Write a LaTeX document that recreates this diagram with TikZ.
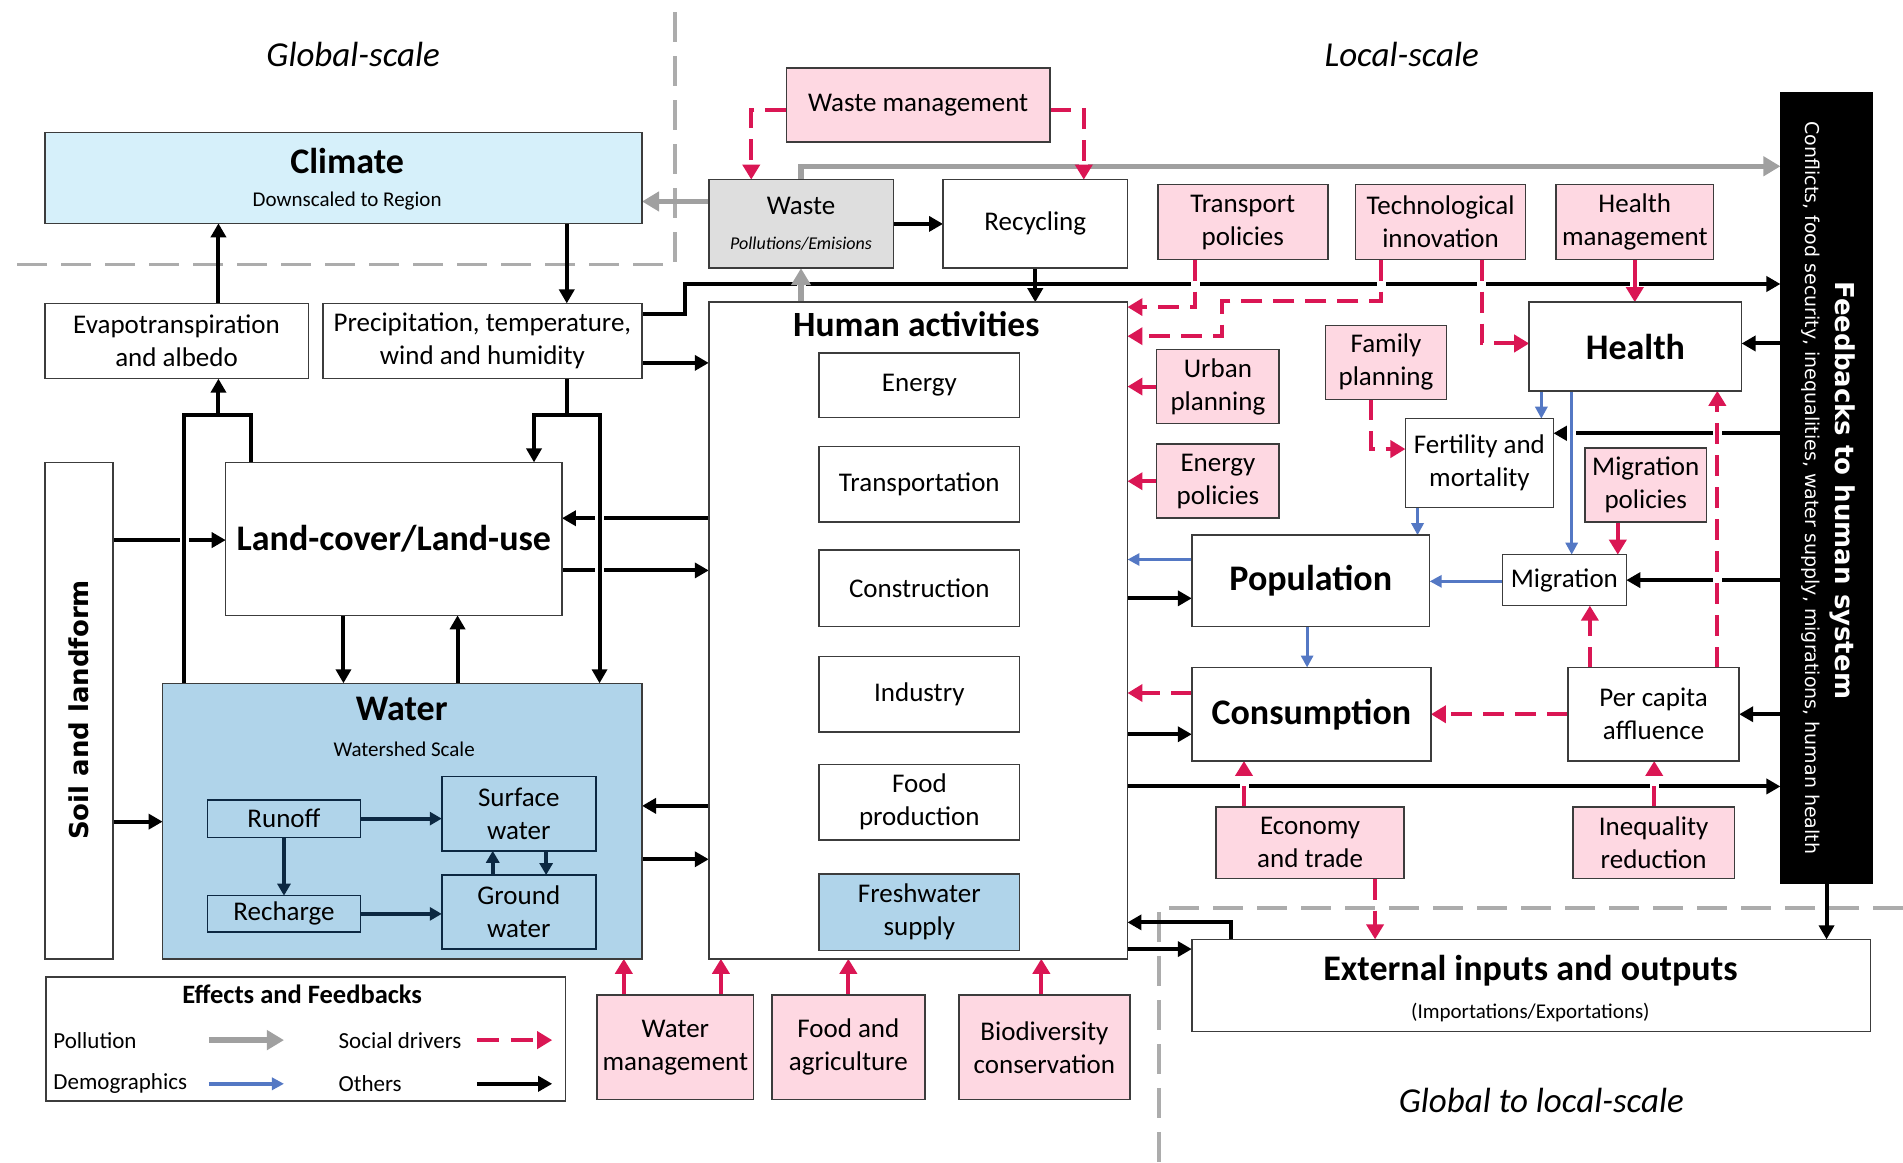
\documentclass[tikz,border=0pt]{standalone}
\usepackage{fontspec}
\setmainfont{Carlito}
\newfontfamily\dvs{DejaVu Sans}
\usetikzlibrary{arrows.meta}
\pgfdeclarelayer{bg}
\pgfsetlayers{bg,main}
\definecolor{pinkfill}{RGB}{254,216,226}
\definecolor{pinkline}{RGB}{218,22,84}
\definecolor{bluefill}{RGB}{176,212,234}
\definecolor{climfill}{RGB}{214,240,250}
\definecolor{wastefill}{RGB}{222,222,222}
\definecolor{bordc}{RGB}{60,60,60}
\definecolor{demog}{RGB}{84,120,196}
\definecolor{pollc}{RGB}{160,160,160}
\definecolor{navyc}{RGB}{12,40,66}
\definecolor{dashgray}{RGB}{172,172,172}
\newcommand\myN{\fontsize{27}{33}\selectfont}
\newcommand\myB{\fontsize{36}{42}\selectfont\bfseries}
\newcommand\myH{\fontsize{35.5}{40}\selectfont\bfseries}
\newcommand\myS{\fontsize{21}{25}\selectfont}
\newcommand\myL{\fontsize{23}{28}\selectfont}
\newcommand\myI{\fontsize{35}{40}\selectfont\itshape}
\newcommand\bx[7]{\node[#6, minimum width={(#4-#2)*1.2136pt}, minimum height={(#5-#3)*1.2136pt}] (#1) at ({(#2+#4)/2},{(#3+#5)/2}) {#7};}
\begin{document}
\begin{tikzpicture}[x=1.2136pt, y=-1.2136pt,
 box/.style={draw=bordc, line width=1.5pt, fill=white, align=center, inner sep=0pt, outer sep=0pt, font=\myN},
 pbox/.style={box, fill=pinkfill},
 wbox/.style={box, draw=navyc, fill=bluefill},
 blkl/.style={draw=black, line width=4pt},
 blk/.style={blkl, -{Triangle[length=14pt,width=15pt]}},
 gry/.style={draw=pollc, line width=5.5pt, -{Triangle[length=17pt,width=19pt]}},
 blu/.style={draw=demog, line width=3pt, -{Triangle[length=12pt,width=12pt]}},
 pnk/.style={draw=pinkline, line width=4pt, -{Triangle[length=15pt,width=17pt]}},
 pnkd/.style={pnk, dash pattern=on 21pt off 11pt},
 nav/.style={draw=navyc, line width=4pt, -{Triangle[length=12pt,width=13pt]}},
 halo/.style={preaction={draw=white, line width=9pt, solid, arrows=-}},
 region/.style={draw=dashgray, line width=3.5pt, dash pattern=on 30pt off 14pt},
 lbl/.style={inner sep=0pt, outer sep=0pt}]
\useasboundingbox (0,0) rectangle (1568,958);

% scale labels
\node[lbl, font=\myI] (gs) at (291,45) {Global-scale};
\node[lbl, font=\myI] (ls) at (1155,45) {Local-scale};
\node[lbl, font=\myI] (gls) at (1270,907) {Global to local-scale};

% climate block
\bx{climate}{37}{109}{529}{184}{box, fill=climfill}{}
\node[lbl, font=\myB] (climt) at (286,133) {Climate};
\node[lbl, font=\myS] (clims) at (286,166) {Downscaled to Region};
\bx{evap}{37}{250}{254}{312}{box}{Evapotranspiration\\and albedo}
\bx{precip}{266}{250}{529}{312}{box}{Precipitation, temperature,\\wind and humidity}

% waste
\bx{wastem}{648}{56}{865}{117}{pbox}{Waste management}
\bx{waste}{584}{148}{736}{221}{box, fill=wastefill}{}
\node[lbl, font=\myN] (wastet) at (660,170) {Waste};
\node[lbl, font=\fontsize{18}{22}\selectfont\itshape] (wastes) at (660,201) {Pollutions/Emisions};
\bx{recyc}{777}{148}{929}{221}{box}{Recycling}

% policies top
\bx{transp}{954}{152}{1094}{214}{pbox}{Transport\\policies}
\bx{techin}{1117}{152}{1257}{214}{pbox}{Technological\\innovation}
\bx{healthm}{1282}{152}{1412}{214}{pbox}{Health\\management}

% feedbacks bar
\bx{feedb}{1467}{76}{1543}{728}{fill=black, inner sep=0pt, outer sep=0pt}{}
\node[lbl, rotate=-90, text=white, font=\dvs\fontsize{26}{30}\selectfont\bfseries] (fbt) at (1518,404) {Feedbacks to human system};
\node[lbl, rotate=-90, text=white, font=\dvs\fontsize{19}{22}\selectfont] (fbs) at (1492,402) {Conflicts, food security, inequalities, water supply, migrations, human health};

% human activities
\bx{human}{584}{249}{929}{790}{box}{}
\node[lbl, font=\myH] (humant) at (755,267) {Human activities};
\bx{energy}{675}{291}{840}{344}{box}{Energy}
\bx{transport}{675}{368}{840}{430}{box}{Transportation}
\bx{constr}{675}{453}{840}{516}{box}{Construction}
\bx{industry}{675}{541}{840}{603}{box}{Industry}
\bx{food}{675}{630}{840}{692}{box}{Food\\production}
\bx{fresh}{675}{720}{840}{783}{box, fill=bluefill}{Freshwater\\supply}

% right side
\bx{urban}{953}{288}{1054}{349}{pbox}{Urban\\planning}
\bx{energyp}{953}{366}{1054}{427}{pbox}{Energy\\policies}
\bx{family}{1092}{268}{1192}{329}{pbox}{Family\\planning}
\bx{health}{1260}{249}{1435}{322}{box, font=\myB}{Health}
\bx{fert}{1158}{345}{1280}{418}{box}{Fertility and\\mortality}
\bx{migpol}{1306}{369}{1406}{430}{pbox}{Migration\\policies}
\bx{pop}{982}{441}{1178}{516}{box, font=\myB}{Population}
\bx{migr}{1238}{457}{1340}{499}{box}{Migration}
\bx{cons}{982}{550}{1179}{627}{box, font=\myB}{Consumption}
\bx{percap}{1292}{550}{1433}{627}{box}{Per capita\\affluence}
\bx{econ}{1002}{665}{1157}{724}{pbox}{Economy\\and trade}
\bx{ineq}{1296}{665}{1429}{724}{pbox}{Inequality\\reduction}
\bx{ext}{982}{774}{1541}{850}{box}{}
\node[lbl, font=\myB] (extt) at (1261,800) {External inputs and outputs};
\node[lbl, font=\myS] (exts) at (1261,834) {(Importations/Exportations)};

% left side
\bx{soil}{37}{381}{93}{790}{box}{}
\node[lbl, rotate=90, font=\dvs\fontsize{26}{30}\selectfont\bfseries] (soilt) at (65,585) {Soil and landform};
\bx{land}{186}{381}{463}{507}{box, font=\myB}{Land-cover/Land-use}
\bx{water}{134}{563}{529}{790}{box, fill=bluefill}{}
\node[lbl, font=\myB] (watert) at (331,584) {Water};
\node[lbl, font=\myS] (waters) at (333,617) {Watershed Scale};
\bx{runoff}{171}{659}{297}{690}{wbox}{Runoff}
\bx{recharge}{171}{738}{297}{768}{wbox}{Recharge}
\bx{surf}{364}{640}{491}{701}{wbox}{Surface\\water}
\bx{ground}{364}{721}{491}{782}{wbox}{Ground\\water}
\draw[nav] (runoff.east) -- (surf.west |- runoff.east);
\draw[nav] (runoff.south) -- (recharge.north);
\draw[nav] (recharge.east) -- (ground.west |- recharge.east);
\draw[nav] (406,0 |- ground.north) -- (406,0 |- surf.south);
\draw[nav] (450,0 |- surf.south) -- (450,0 |- ground.north);

% bottom policies
\bx{waterm}{492}{820}{621}{906}{pbox}{Water\\management}
\bx{foodag}{636}{820}{762}{906}{pbox}{Food and\\agriculture}
\bx{biodiv}{790}{820}{931}{906}{pbox}{Biodiversity\\conservation}

% legend
\bx{legend}{38}{805}{466}{907}{box}{}
\node[lbl, font=\fontsize{26.5}{30}\selectfont\bfseries] (lgt) at (249,819) {Effects and Feedbacks};
\node[lbl, anchor=west, font=\myL] (lgp) at (44,857) {Pollution};
\node[lbl, anchor=west, font=\myL] (lgd) at (44,893) {Demographics};
\node[lbl, anchor=west, font=\myL] (lgs) at (279,857) {Social drivers};
\node[lbl, anchor=west, font=\myL] (lgo) at (279,893) {Others};
\coordinate (lg1a) at (172,857); \coordinate (lg1b) at (234,857);
\coordinate (lg2a) at (172,893); \coordinate (lg2b) at (234,893);
\coordinate (lg3a) at (393,857); \coordinate (lg3b) at (455,857);
\coordinate (lg4a) at (393,893); \coordinate (lg4b) at (455,893);
\draw[gry] (lg1a) -- (lg1b);
\draw[blu, line width=3.5pt] (lg2a) -- (lg2b);
\draw[pnk, dash pattern=on 22pt off 12pt] (lg3a) -- (lg3b);
\draw[blk] (lg4a) -- (lg4b);

\coordinate (jE) at (180,342);
\coordinate (jP) at (467,342);

\begin{pgfonlayer}{bg}
% region borders
\draw[region] (556,10) -- (556,218) -- (10,218);
\draw[region] (1568,748) -- (955,748) -- (955,958);

% plain black connectors
\draw[blk] (467,0 |- climate.south) -- (467,0 |- precip.north);
\draw[blk] (precip.east |- 0,299) -- (human.west |- 0,299);
\draw[blk] (precip.east |- 0,259) -- (564,259) -- (564,234) -- (feedb.west |- 0,234);
\draw[blk] (soil.east |- 0,445) -- (land.west |- 0,445);
\draw[blk] (soil.east |- 0,677) -- (water.west |- 0,677);
\draw[blk] (human.west |- 0,427) -- (land.east |- 0,427);
\draw[blk] (land.east |- 0,470) -- (human.west |- 0,470);
\draw[blk] (283,0 |- land.south) -- (283,0 |- water.north);
\draw[blk] (377,0 |- water.north) -- (377,0 |- land.south);
\draw[blk] (human.west |- 0,664) -- (water.east |- 0,664);
\draw[blk] (water.east |- 0,708) -- (human.west |- 0,708);
\draw[blk] (waste.east) -- (recyc.west |- waste.east);
\draw[blk] (recyc.south) -- (human.north -| recyc.south);
\draw[blk] (feedb.west |- 0,283) -- (health.east |- 0,283);
\draw[blk] (feedb.west |- 0,357) -- (fert.east |- 0,357);
\draw[blk] (feedb.west |- migr.east) -- (migr.east);
\draw[blk] (feedb.west |- percap.east) -- (percap.east);
\draw[blk] (human.east |- 0,493) -- (pop.west |- 0,493);
\draw[blk] (human.east |- 0,605) -- (cons.west |- 0,605);
\draw[blk] (human.east |- 0,648) -- (feedb.west |- 0,648);
\draw[blk] (1014,0 |- ext.north) -- (1014,760) -- (human.east |- 0,760);
\draw[blk] (human.east |- 0,782) -- (ext.west |- 0,782);
\draw[blk] (feedb.south) -- (ext.north -| feedb.south);

% crossing black connectors
\draw[blkl, halo] (152,0 |- water.north) -- (152,342) -- (207,342) -- (207,0 |- land.north);
\draw[blk] (jE) -- (180,0 |- evap.south);
\draw[blk] (180,0 |- evap.north) -- (180,0 |- climate.south);
\draw[blk, halo] (jP) -- (494,342) -- (494,0 |- water.north);
\draw[blkl] (467,0 |- precip.south) -- (jP);
\draw[blk] (jP) -- (440,342) -- (440,0 |- land.north);

% pollution
\draw[gry] (waste.west |- 0,166) -- (climate.east |- 0,166);
\draw[gry] (waste.north) -- (660,137) -- (feedb.west |- 0,137);
\draw[gry, halo] (human.north -| waste.south) -- (waste.south);

% demographics
\draw[blu] (pop.west |- 0,461) -- (human.east |- 0,461);
\draw[blu] (1077,0 |- pop.south) -- (1077,0 |- cons.north);
\draw[blu] (migr.west |- 0,479) -- (pop.east |- 0,479);
\draw[blu] (1168,0 |- fert.south) -- (1168,0 |- pop.north);
\draw[blu] (1270,0 |- health.south) -- (1270,0 |- fert.north);
\draw[blu, halo] (1295,0 |- health.south) -- (1295,0 |- migr.north);

% social drivers
\draw[pnkd] (wastem.west |- 0,91) -- (619,91) -- (619,0 |- waste.north);
\draw[pnkd, halo] (wastem.east |- 0,91) -- (893,91) -- (893,0 |- recyc.north);
\draw[pnkd, halo] (985,0 |- transp.south) -- (985,253) -- (human.east |- 0,253);
\draw[pnkd, halo] (1138,0 |- techin.south) -- (1138,248) -- (1007,248) -- (1007,277) -- (human.east |- 0,277);
\draw[pnkd, halo] (1221,0 |- techin.south) -- (1221,283) -- (health.west |- 0,283);
\draw[pnk, halo] (healthm.south) -- (health.north -| healthm.south);
\draw[pnk] (urban.west) -- (human.east |- urban.west);
\draw[pnk] (energyp.west) -- (human.east |- energyp.west);
\draw[pnkd] (1130,0 |- family.south) -- (1130,370) -- (fert.west |- 0,370);
\draw[pnk] (1333,0 |- migpol.south) -- (1333,0 |- migr.north);
\draw[pnkd] (cons.west |- 0,571) -- (human.east |- 0,571);
\draw[pnkd] (percap.west) -- (cons.east |- percap.west);
\draw[pnkd] (1310,0 |- percap.north) -- (1310,0 |- migr.south);
\draw[pnkd, halo] (1415,0 |- percap.north) -- (1415,0 |- health.south);
\draw[pnkd, halo] (1025,0 |- econ.north) -- (1025,0 |- cons.south);
\draw[pnkd] (1133,0 |- econ.south) -- (1133,0 |- ext.north);
\draw[pnkd, halo] (1363,0 |- ineq.north) -- (1363,0 |- percap.south);
\draw[pnk] (514,0 |- waterm.north) -- (514,0 |- water.south);
\draw[pnk] (594,0 |- waterm.north) -- (594,0 |- human.south);
\draw[pnk] (foodag.north) -- (human.south -| foodag.north);
\draw[pnk] (858,0 |- biodiv.north) -- (858,0 |- human.south);
\end{pgfonlayer}
\end{tikzpicture}
\end{document}
